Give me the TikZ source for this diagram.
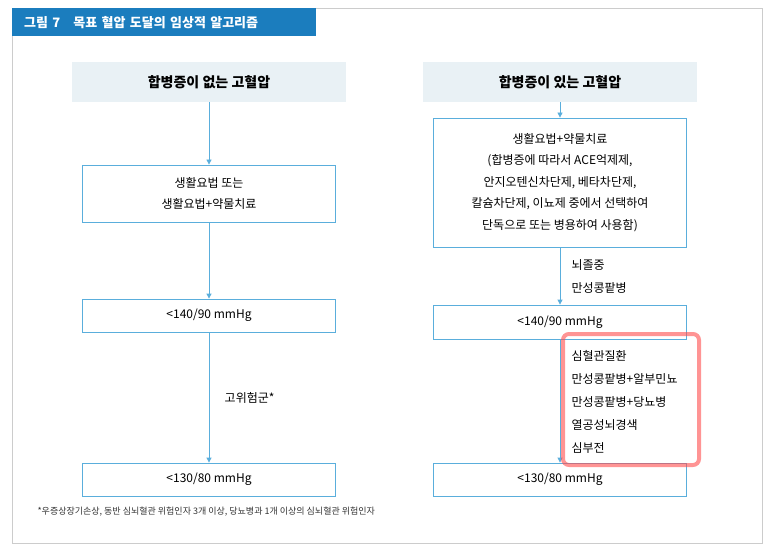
\documentclass[tikz,border=0pt]{standalone}
\usepackage{fontspec}
\setmainfont{Noto Sans CJK KR}
\usetikzlibrary{arrows.meta,positioning}
\definecolor{titleblue}{HTML}{1B7DBE}
\definecolor{linkblue}{HTML}{5AAEDC}
\definecolor{headfill}{HTML}{E9F1F5}
\tikzset{
  headbox/.style={fill=headfill, minimum width=274pt, minimum height=40pt, font=\fontsize{14}{16}\selectfont\bfseries},
  stepbox/.style={draw=linkblue, line width=0.8pt, minimum width=253pt, align=center, font=\fontsize{12}{21.5}\selectfont},
  link/.style={draw=linkblue, line width=0.8pt, -{Triangle[length=5pt,width=5pt]}},
  note/.style={align=left, anchor=west, font=\fontsize{12}{23}\selectfont}
}
\begin{document}
\begin{tikzpicture}[x=1pt,y=-1pt]
\useasboundingbox (0,0) rectangle (773,553);
\draw[gray!40] (12,8) rectangle (762,543);
\node (title) [fill=titleblue, text=white, anchor=north west, minimum width=304pt, minimum height=28pt, inner xsep=12pt, text width=280pt, font=\fontsize{13}{15}\selectfont\bfseries] at (12,8) {그림 7\quad 목표 혈압 도달의 임상적 알고리즘};

% left column
\node (h1) [headbox] at (209,82) {합병증이 없는 고혈압};
\node (l1) [stepbox, minimum height=57pt] at (209,193.5) {생활요법 또는\\생활요법+약물치료};
\node (l2) [stepbox, minimum height=33pt] at (209,315.5) {<140/90 mmHg};
\node (l3) [stepbox, minimum height=33pt] at (209,479.5) {<130/80 mmHg};
\draw[link] (h1) -- (l1);
\draw[link] (l1) -- (l2);
\draw[link] (l2) -- node[right=12pt, font=\fontsize{12}{14}\selectfont] {고위험군*} (l3);

% right column
\node (h2) [headbox] at (560,82) {합병증이 있는 고혈압};
\node (r1) [stepbox, minimum height=129pt, inner sep=0pt] at (560,182.5) {생활요법+약물치료\\(합병증에 따라서 ACE억제제,\\안지오텐신차단제, 베타차단제,\\칼슘차단제, 이뇨제 중에서 선택하여\\단독으로 또는 병용하여 사용함)};
\node (r2) [stepbox, minimum height=34pt] at (560,322) {<140/90 mmHg};
\node (r3) [stepbox, minimum height=33pt] at (560,479.5) {<130/80 mmHg};
\draw[link] (h2) -- (r1);
\draw[link] (r1) -- (r2);
\draw[link] (r2) -- (r3);
\node (n1) [note] at (568,276) {뇌졸중\\만성콩팥병};
\node (n2) [note] at (568,402) {심혈관질환\\만성콩팥병+알부민뇨\\만성콩팥병+당뇨병\\열공성뇌경색\\심부전};
\draw[red!70, opacity=0.6, line width=4pt, rounded corners=6pt] (563,334) rectangle (699,465);

\node (foot) [anchor=west, font=\fontsize{9}{11}\selectfont, text=black!80] at (34,512) {*우증상장기손상, 동반 심뇌혈관 위험인자 3개 이상, 당뇨병과 1개 이상의 심뇌혈관 위험인자};
\end{tikzpicture}
\end{document}
